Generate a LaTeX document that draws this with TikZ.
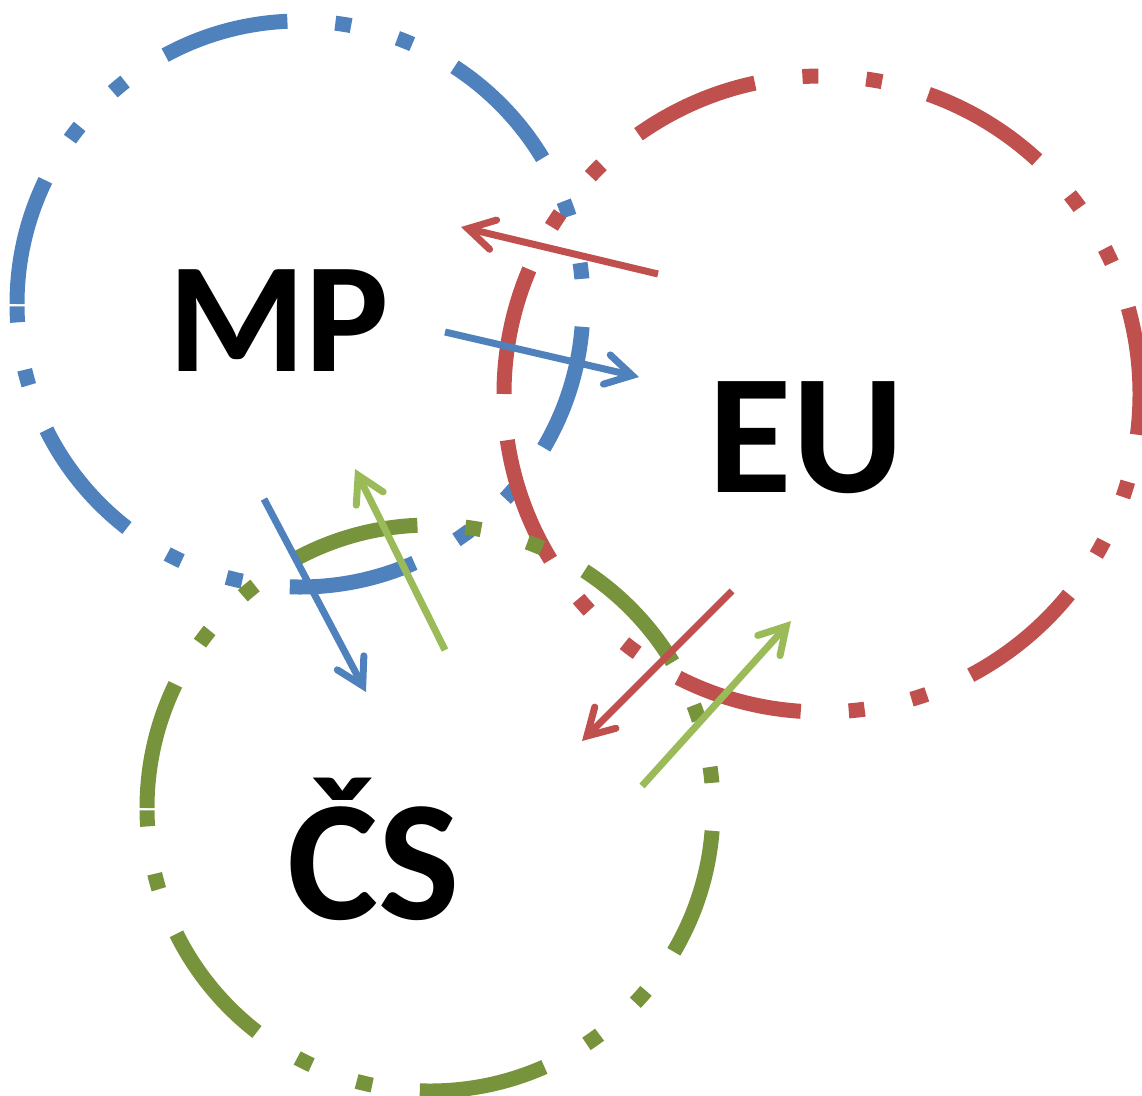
\documentclass[tikz,border=0pt]{standalone}
\usepackage{fontspec}
\setmainfont{Carlito}
\usetikzlibrary{arrows.meta}
\definecolor{cblue}{HTML}{4F81BD}
\definecolor{cred}{HTML}{C0504D}
\definecolor{cgreen}{HTML}{77933C}
\definecolor{clgreen}{HTML}{9BBB59}
\begin{document}
\begin{tikzpicture}[x=1pt,y=-1pt,
  ring/.style={line width=15pt, dash pattern=on 128pt off 48pt on 16pt off 48pt on 16pt off 48pt},
  arr/.style={line width=7pt, -{Straight Barb[length=26pt,width=30pt,line cap=round,line join=miter]}},
  lbl/.style={inner sep=0pt, anchor=base, text=black}]
\useasboundingbox (0,0) rectangle (1142,1095);
% circles
\draw[ring, cblue] (300,304) ++(-283,0) arc[start angle=-180,end angle=180,radius=283];
\draw[ring, cred] (822,394) ++(-318,0) arc[start angle=-180,end angle=180,radius=318];
\draw[ring, cgreen] (430,808) ++(-283,0) arc[start angle=-180,end angle=180,radius=283];
% arrow end points
\coordinate (b1s) at (445,332); \coordinate (b1e) at (639,377);
\coordinate (b2s) at (264,499); \coordinate (b2e) at (366,692);
\coordinate (r1s) at (658,274); \coordinate (r1e) at (461,227);
\coordinate (r2s) at (732,591); \coordinate (r2e) at (582,741);
\coordinate (g1s) at (445,650); \coordinate (g1e) at (355,469);
\coordinate (g2s) at (642,786); \coordinate (g2e) at (791,621);
% arrows
\draw[arr, cblue] (b1s) -- (b1e);
\draw[arr, cblue] (b2s) -- (b2e);
\draw[arr, cred] (r1s) -- (r1e);
\draw[arr, cred] (r2s) -- (r2e);
\draw[arr, clgreen] (g1s) -- (g1e);
\draw[arr, clgreen] (g2s) -- (g2e);
% labels
\node[lbl, font=\fontsize{157}{157}\selectfont\bfseries] (mp) at (278.5,371) {MP};
\node[lbl, font=\fontsize{171}{171}\selectfont\bfseries] (eu) at (806.5,492) {EU};
\node[lbl, font=\fontsize{172}{172}\selectfont\bfseries] (cs) at (373.5,919) {ČS};
\end{tikzpicture}
\end{document}
